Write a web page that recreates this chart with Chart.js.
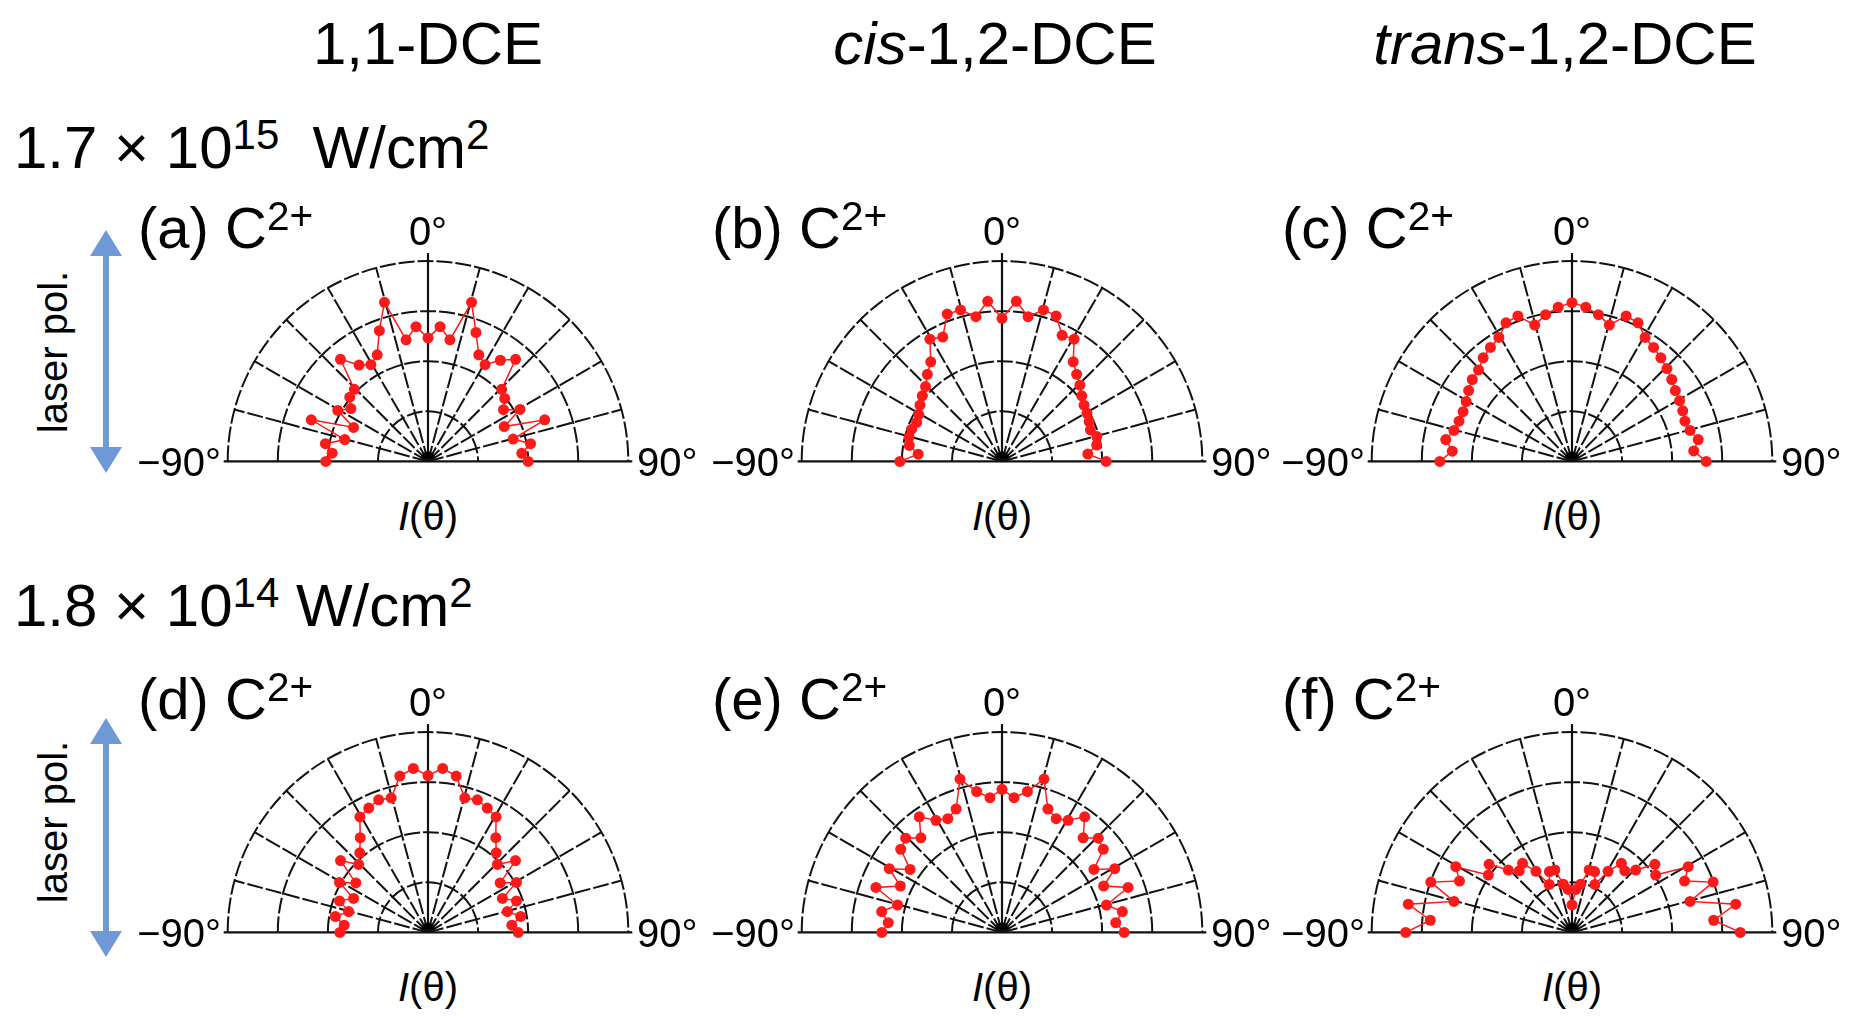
<!DOCTYPE html>
<html><head><meta charset="utf-8">
<script src="https://cdn.jsdelivr.net/npm/chart.js@4.4.1/dist/chart.umd.min.js"></script>
<style>
body{margin:0;width:1853px;height:1018px;background:#fff;position:relative;overflow:hidden;font-family:"Liberation Sans",Arial,sans-serif;color:#000}
.t{position:absolute;white-space:nowrap;line-height:1}
.box{position:absolute}
sup{font-size:70%;vertical-align:0;position:relative;top:-0.45em}
</style></head><body>
<script>
// angles (deg) and normalized intensities
const angles = [-90,-85,-80,-75,-70,-65,-60,-55,-50,-45,-40,-35,-30,-25,-20,-15,-10,-5,0,5,10,15,20,25,30,35,40,45,50,55,60,65,70,75,80,85,90];
const valsA = [.51,.48,.52,.43,.62,.41,.52,.47,.51,.52,.68,.60,.57,.60,.71,.84,.63,.69,.63,.69,.63,.84,.70,.60,.57,.63,.68,.52,.50,.46,.53,.42,.62,.44,.52,.47,.50];
const valsB = [.51,.42,.47,.48,.48,.47,.48,.50,.52,.54,.58,.62,.72,.70,.80,.80,.75,.82,.73,.82,.75,.80,.79,.71,.72,.62,.58,.55,.52,.50,.49,.48,.47,.49,.48,.43,.52];
const valsC = [.66,.60,.64,.61,.60,.60,.61,.63,.65,.66,.69,.71,.73,.78,.79,.72,.76,.79,.81,.79,.76,.72,.79,.78,.73,.71,.69,.67,.65,.63,.62,.61,.60,.61,.64,.61,.67];
const valsD = [.44,.42,.47,.41,.47,.41,.51,.44,.57,.49,.53,.59,.68,.70,.72,.71,.81,.84,.80,.84,.81,.71,.72,.70,.68,.59,.53,.49,.57,.44,.51,.41,.47,.41,.47,.42,.45];
const valsE = [.60,.57,.61,.54,.67,.56,.65,.56,.66,.68,.63,.72,.66,.64,.67,.81,.73,.69,.73,.69,.73,.81,.67,.64,.66,.72,.63,.68,.66,.56,.65,.56,.67,.54,.61,.57,.61];
const valsF = [.83,.71,.83,.61,.75,.62,.67,.51,.54,.45,.41,.43,.36,.27,.33,.33,.25,.22,.14,.22,.25,.33,.33,.27,.36,.43,.41,.45,.54,.51,.67,.62,.75,.61,.83,.71,.84];
const gridRadii = [0.25,0.5,0.75,1.0];
const spokeAngles = [-90,-75,-60,-45,-30,-15,0,15,30,45,60,75,90];
const columnTitles = ['1,1-DCE','<i>cis</i>-1,2-DCE','<i>trans</i>-1,2-DCE'];
const rowTitles = ['1.7 × 10<sup>15</sup>&nbsp; W/cm<sup>2</sup>','1.8 × 10<sup>14</sup> W/cm<sup>2</sup>'];
const panelLabels = ['(a) C<sup>2+</sup>','(b) C<sup>2+</sup>','(c) C<sup>2+</sup>','(d) C<sup>2+</sup>','(e) C<sup>2+</sup>','(f) C<sup>2+</sup>'];
const panelVals = [valsA,valsB,valsC,valsD,valsE,valsF];

const R=205, colX=[428,1002,1572], rowY=[466,937];
function txt(html,x,y,size,align,extra){
  const d=document.createElement('div');d.className='t';d.innerHTML=html;
  d.style.fontSize=size+'px';d.style.top=y+'px';
  if(align==='c'){d.style.left=x+'px';d.style.transform='translate(-50%,-50%)';}
  else if(align==='r'){d.style.right=(1853-x)+'px';d.style.transform='translateY(-50%)';}
  else {d.style.left=x+'px';d.style.transform='translateY(-50%)';}
  if(extra) Object.assign(d.style,extra);
  document.body.appendChild(d);return d;
}
columnTitles.forEach((t,i)=>txt(t,[428,995,1565][i],44,60,'c'));
rowTitles.forEach((t,i)=>txt(t,14,[148,606][i],60,'l'));

const gridPlugin={id:'pgrid',beforeDatasetsDraw(c){
  const ctx=c.ctx,xs=c.scales.x,ys=c.scales.y;
  const cx=xs.getPixelForValue(0),cy=ys.getPixelForValue(0),pr=xs.getPixelForValue(1)-cx;
  ctx.save();ctx.strokeStyle='#111';ctx.lineWidth=2;
  ctx.setLineDash([16,3]);
  gridRadii.forEach(r=>{ctx.beginPath();ctx.arc(cx,cy,r*pr,Math.PI,2*Math.PI);ctx.stroke();});
  spokeAngles.forEach(a=>{
    if(a===0||Math.abs(a)===90)return;
    const t=a*Math.PI/180;ctx.beginPath();ctx.moveTo(cx,cy);ctx.lineTo(cx+pr*Math.sin(t),cy-pr*Math.cos(t));ctx.stroke();});
  ctx.setLineDash([]);ctx.lineWidth=2.2;
  ctx.beginPath();ctx.moveTo(cx,cy);ctx.lineTo(cx,cy-pr-8);ctx.stroke();
  ctx.beginPath();ctx.moveTo(cx-pr-4,cy);ctx.lineTo(cx+pr+4,cy);ctx.stroke();
  ctx.fillStyle='#000';ctx.beginPath();ctx.arc(cx,cy-3,7,Math.PI,2*Math.PI);ctx.fill();
  ctx.restore();
}};

panelVals.forEach((vals,i)=>{
  const cx=colX[i%3],cy=rowY[Math.floor(i/3)];
  const W=480,H=250,top=cy-230,left=cx-240;
  const box=document.createElement('div');box.className='box';
  box.style.cssText=`left:${left}px;top:${top}px;width:${W}px;height:${H}px`;
  const cv=document.createElement('canvas');box.appendChild(cv);document.body.appendChild(box);
  const pts=angles.map((a,k)=>({x:vals[k]*Math.sin(a*Math.PI/180),y:vals[k]*Math.cos(a*Math.PI/180)}));
  new Chart(cv,{type:'scatter',data:{datasets:[{data:pts,showLine:true,borderColor:'#ff1a1a',backgroundColor:'#ff1a1a',borderWidth:1.5,pointRadius:5.5,pointBorderWidth:0}]},
    options:{responsive:true,maintainAspectRatio:false,animation:false,layout:{padding:0},
      plugins:{legend:{display:false},tooltip:{enabled:false}},
      scales:{x:{display:false,min:-W/2/R,max:W/2/R},y:{display:false,min:-(H-230)/R,max:230/R}}},
    plugins:[gridPlugin]});
  txt(panelLabels[i],cx-290,cy-238,58,'l');
  txt('0°',cx,cy-R-30,40,'c');
  txt('−90°',cx-R-2,cy-4,40,'r');
  txt('90°',cx+R+4,cy-4,40,'l');
  txt('<i>I</i>(θ)',cx,cy+50,40,'c');
});
// laser pol. labels and arrows
[[352,230,473],[822,718,957]].forEach(([ly,a0,a1])=>{
  txt('laser pol.',53,ly,40,'c',{transform:'translate(-50%,-50%) rotate(-90deg)'});
  const s=document.createElementNS('http://www.w3.org/2000/svg','svg');
  s.setAttribute('width',40);s.setAttribute('height',a1-a0);
  s.style.cssText=`position:absolute;left:${106-20}px;top:${a0}px`;
  const h=a1-a0;
  s.innerHTML=`<line x1="20" y1="20" x2="20" y2="${h-20}" stroke="#6f98d6" stroke-width="6"/>
  <polygon points="20,0 36,26 4,26" fill="#6f98d6"/><polygon points="20,${h} 36,${h-26} 4,${h-26}" fill="#6f98d6"/>`;
  document.body.appendChild(s);
});
</script>
</body></html>
